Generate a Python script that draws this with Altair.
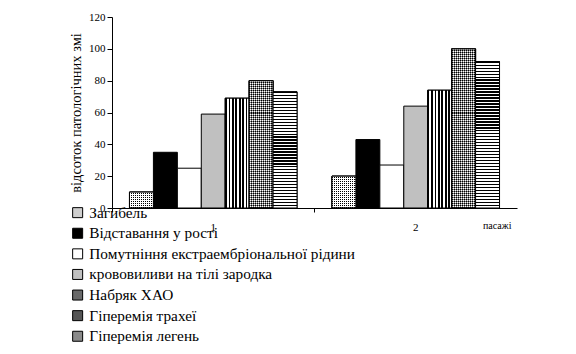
import altair as alt
import pandas as pd

passages = ["1", "2"]
categories = [
    "Загибель",
    "Відставання у рості",
    "Помутніння екстраембріональної рідини",
    "крововиливи на тілі зародка",
    "Набряк ХАО",
    "Гіперемія трахеї",
    "Гіперемія легень",
]
values_p1 = [10, 35, 25, 59, 69, 80, 73]
values_p2 = [20, 43, 27, 64, 74, 100, 92]
legend_colors = ["#cfcfcf", "#000000", "#ffffff", "#c0c0c0", "#6a6a6a", "#555555", "#8a8a8a"]

rows = []
for p, vals in zip(passages, [values_p1, values_p2]):
    for c, v in zip(categories, vals):
        rows.append({"passage": p, "cat": c, "value": v})
df = pd.DataFrame(rows)

FONT = "Liberation Serif"
PLOT_W, PLOT_H = 405, 191
YMAX = 120


def stripes(n, frac, c1, c2, vertical):
    stops = []
    for k in range(n):
        a = k / n
        b = (k + frac) / n
        c = (k + 1) / n
        stops += [
            {"offset": a, "color": c1},
            {"offset": b, "color": c1},
            {"offset": b, "color": c2},
            {"offset": c, "color": c2},
        ]
    if vertical:
        return {"gradient": "linear", "x1": 0, "y1": 0, "x2": 1, "y2": 0, "stops": stops}
    return {"gradient": "linear", "x1": 0, "y1": 0, "x2": 0, "y2": 1, "stops": stops}


x_enc = alt.X(
    "passage:N",
    scale=alt.Scale(domain=passages, paddingInner=0, paddingOuter=0),
    axis=alt.Axis(
        title="пасажі",
        titleFontSize=10,
        titleFontWeight="normal",
        titleColor="black",
        titleX=PLOT_W - 6,
        titleY=20,
        titleAlign="right",
        titleAnchor="end",
        titleBaseline="alphabetic",
        labelFontSize=11,
        labelColor="black",
        labelAngle=0,
        labelPadding=9,
        bandPosition=0,
        tickColor="black",
        tickSize=4,
        domainColor="black",
        grid=False,
    ),
)
xo_enc = alt.XOffset(
    "cat:N",
    sort=categories,
    scale=alt.Scale(domain=categories, paddingInner=0, paddingOuter=0.73),
)
y_enc = alt.Y(
    "value:Q",
    scale=alt.Scale(domain=[0, YMAX]),
    axis=alt.Axis(
        values=[0, 20, 40, 60, 80, 100, 120],
        title="відсоток патологічних змі",
        titleFontSize=14.5,
        titleFontWeight="normal",
        titleColor="black",
        titlePadding=5,
        labelFontSize=11,
        labelColor="black",
        tickColor="black",
        tickSize=5,
        domainColor="black",
        grid=False,
    ),
)

base = alt.Chart(df).mark_bar(stroke="black", strokeWidth=1).encode(
    x=x_enc,
    xOffset=xo_enc,
    y=y_enc,
    fill=alt.Fill(
        "cat:N",
        scale=alt.Scale(domain=categories, range=legend_colors),
        legend=alt.Legend(
            title=None,
            orient="none",
            legendX=-42,
            legendY=188,
            direction="vertical",
            symbolType="square",
            symbolSize=100,
            symbolStrokeColor="black",
            symbolStrokeWidth=1,
            symbolOpacity=1,
            labelFontSize=15.3,
            labelColor="black",
            labelOffset=4,
            labelLimit=400,
            rowPadding=4.6,
            padding=0,
        ),
    ),
)


def layer(cat, fill, passage=None):
    flt = alt.datum.cat == cat
    if passage is not None:
        flt = (alt.datum.cat == cat) & (alt.datum.passage == passage)
    return (
        alt.Chart(df)
        .transform_filter(flt)
        .mark_bar(fill=fill, stroke="black", strokeWidth=1)
        .encode(x=x_enc, xOffset=xo_enc, y=y_enc)
    )


TRANSP = "rgba(255,255,255,0)"
layers = [base]
layers.append(layer(categories[4], stripes(7, 0.5, "black", "white", True)))
for p, vals in zip(passages, [values_p1, values_p2]):
    h0 = vals[0] / YMAX * PLOT_H
    layers.append(layer(categories[0], stripes(12, 0.5, "black", "white", True), p))
    layers.append(layer(categories[0], stripes(max(1, round(h0 / 2)), 0.5, "white", TRANSP, False), p))
    h5 = vals[5] / YMAX * PLOT_H
    layers.append(layer(categories[5], stripes(12, 0.5, "black", "white", True), p))
    layers.append(layer(categories[5], stripes(max(1, round(h5 / 2)), 0.5, "rgba(255,255,255,0.5)", "rgba(0,0,0,0.5)", False), p))
    h6 = vals[6] / YMAX * PLOT_H
    layers.append(layer(categories[6], stripes(max(1, round(h6 / 3)), 0.4, "black", "white", False), p))

chart = (
    alt.layer(*layers)
    .properties(
        width=PLOT_W,
        height=PLOT_H,
        autosize=alt.AutoSizeParams(type="none"),
        padding={"left": 112, "top": 17, "right": 576 - 112 - PLOT_W, "bottom": 354 - 17 - PLOT_H},
        background="white",
    )
    .configure(font=FONT)
    .configure_axis(labelFont=FONT, titleFont=FONT)
    .configure_legend(labelFont=FONT)
    .configure_view(stroke=None)
)

chart.save("out.html", embed_options={"renderer": "svg", "actions": False})
